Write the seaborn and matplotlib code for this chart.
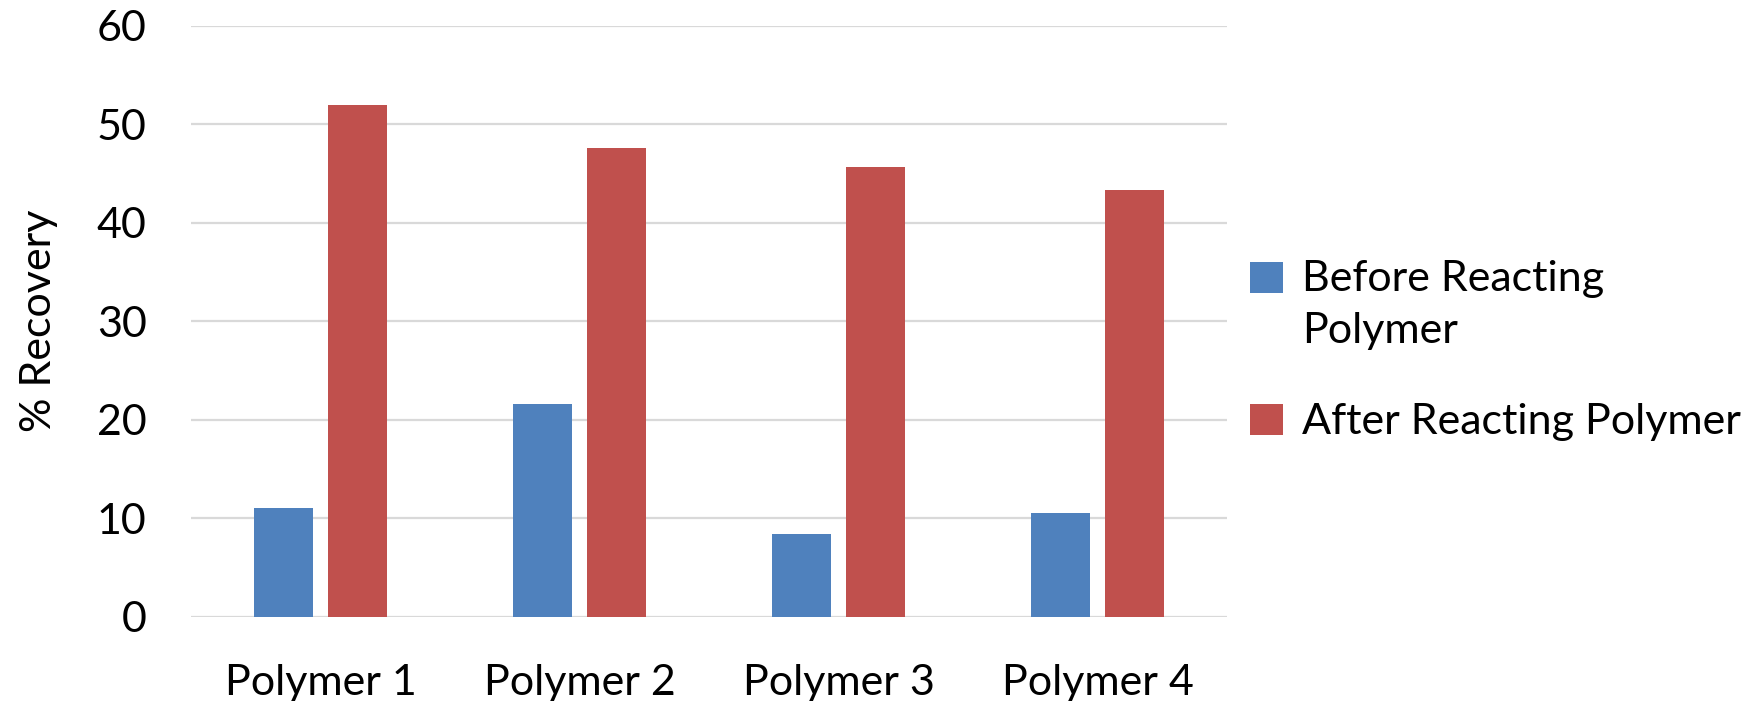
import matplotlib
matplotlib.use("Agg")
import matplotlib.pyplot as plt
import seaborn as sns
import pandas as pd

categories = ["Polymer 1", "Polymer 2", "Polymer 3", "Polymer 4"]
before = [11.0, 21.6, 8.35, 10.5]
after = [51.9, 47.6, 45.6, 43.35]
series_names = ["Before Reacting\nPolymer", "After Reacting Polymer"]
yticks = [0, 10, 20, 30, 40, 50, 60]

sns.set_theme(style="white")
plt.rcParams['font.family'] = ['Lato', 'DejaVu Sans']
plt.rcParams['text.color'] = 'black'
plt.rcParams['axes.labelcolor'] = 'black'

df = pd.DataFrame({
    "cat": categories * 2,
    "val": before + after,
    "series": [series_names[0]] * 4 + [series_names[1]] * 4,
})

fig = plt.figure(figsize=(17.56, 7.01), dpi=100)
ax = fig.add_axes([0.1088, 0.1205, 0.59, 0.8431])

sns.barplot(data=df, x="cat", y="val", hue="series", order=categories,
            hue_order=series_names, palette=["#4F81BD", "#C0504D"],
            width=0.572, gap=0.2, ax=ax, saturation=1, errorbar=None,
            linewidth=0)

ax.set_ylim(0, 60)
ax.set_xlim(-0.5, 3.5)
ax.set_yticks(yticks)
ax.set_yticklabels([str(t) for t in yticks])
ax.yaxis.grid(True, color="#D9D9D9", linewidth=1.6)
ax.set_axisbelow(True)
for s in ax.spines.values():
    s.set_visible(False)
ax.tick_params(axis="both", length=0, labelsize=31, colors="black")
ax.tick_params(axis="y", pad=32)
ax.tick_params(axis="x", pad=34)
ax.set_xlabel("")
ax.set_ylabel("% Recovery", fontsize=31, labelpad=28, color="black")

handles, labels = ax.get_legend_handles_labels()
leg = ax.legend(handles, labels, loc="center left", bbox_to_anchor=(0.69, 0.5),
                bbox_transform=fig.transFigure, frameon=False, fontsize=31,
                handlelength=0.75, handleheight=0.75, handletextpad=0.45,
                labelspacing=1.25, labelcolor="black")
for t in leg.get_texts():
    t.set_linespacing(1.45)
for h in leg.legend_handles:
    h.set_edgecolor("none")
    h.set_linewidth(0)
# align the first handle with the first line of its wrapped label
leg.legend_handles[0].set_y(leg.legend_handles[0].get_y() + 20)

fig.savefig("out.png", dpi=100)
